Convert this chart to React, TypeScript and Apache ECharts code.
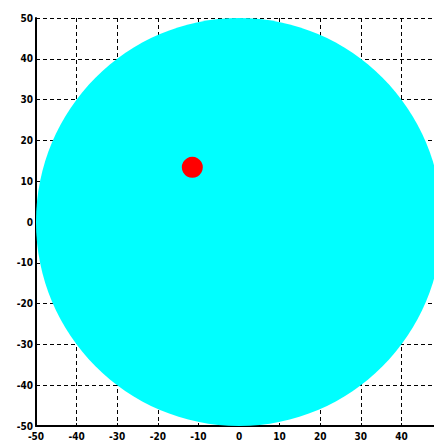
import React, { useEffect, useRef } from "react";
import * as echarts from "echarts";

const xTicks = [-50, -40, -30, -20, -10, 0, 10, 20, 30, 40, 50];
const yTicks = [-50, -40, -30, -20, -10, 0, 10, 20, 30, 40, 50];
const bigCircle = [[0, 0, 50]]; // cx, cy, radius
const redPoint = [[-11.5, 13.4]];

export default function App() {
  const ref = useRef<HTMLDivElement>(null);
  useEffect(() => {
    document.body.style.margin = "0";
    document.body.style.overflow = "hidden";
    const chart = echarts.init(ref.current!, null, { renderer: "svg" });
    const labelStyle = {
      color: "#000",
      fontFamily: "DejaVu Sans Condensed, DejaVu Sans",
      fontWeight: "bold" as const,
      fontSize: 10,
    };
    const axisCommon = {
      type: "value" as const,
      min: xTicks[0],
      max: xTicks[xTicks.length - 1],
      interval: 10,
      axisLine: { show: true, onZero: false, lineStyle: { color: "#000", width: 2 } },
      axisTick: { show: true, inside: true, length: 3, lineStyle: { color: "#000" } },
      splitLine: { show: true, lineStyle: { color: "#000", type: [4, 3] as any, width: 1 } },
    };
    chart.setOption({
      animation: false,
      backgroundColor: "#fff",
      grid: { left: 36, top: 18, right: 18, bottom: 17, outerBoundsMode: "none", containLabel: false },
      xAxis: {
        ...axisCommon,
        axisLabel: { ...labelStyle, margin: 5, showMinLabel: true, showMaxLabel: false },
      },
      yAxis: {
        ...axisCommon,
        min: yTicks[0],
        max: yTicks[yTicks.length - 1],
        axisLabel: { ...labelStyle, margin: 3, showMinLabel: true },
      },
      series: [
        {
          type: "custom",
          data: bigCircle,
          z: 2,
          renderItem: (params: any, api: any) => {
            const c = api.coord([api.value(0), api.value(1)]);
            const s = api.size([api.value(2), api.value(2)]);
            return {
              type: "ellipse",
              shape: { cx: c[0], cy: c[1], rx: s[0], ry: s[1] },
              style: { fill: "#00ffff", stroke: null },
            };
          },
          silent: true,
        },
        {
          type: "scatter",
          data: redPoint,
          symbol: "circle",
          symbolSize: 21,
          itemStyle: { color: "#ff0000", opacity: 1 },
          z: 3,
        },
      ],
    });
    return () => chart.dispose();
  }, []);
  return (
    <div
      ref={ref}
      style={{ position: "fixed", left: 0, top: 0, width: 460, height: 443 }}
    />
  );
}
